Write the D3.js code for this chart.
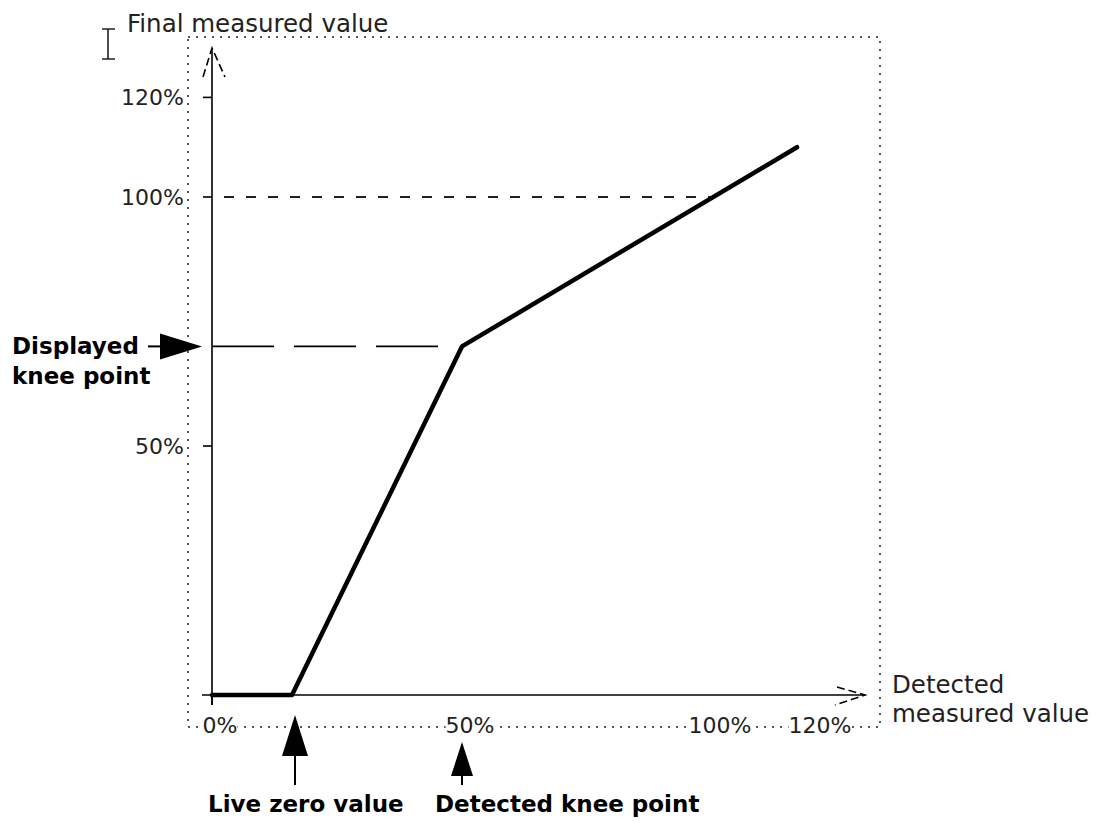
<!DOCTYPE html>
<html>
<head>
<meta charset="utf-8">
<script src="https://cdn.jsdelivr.net/npm/d3@7/dist/d3.min.js"></script>
<style>
html,body{margin:0;padding:0;background:#fff;}
svg{display:block;}
</style>
</head>
<body>
<svg id="chart" width="1097" height="823"></svg>
<script>
// ---- data ----
const curveX = [0, 16, 50, 117];          // detected measured value (%)
const curveY = [0, 0, 70, 110];           // final measured value (%)
const yTickValues = [50, 100, 120];
const yTickLabels = ["50%", "100%", "120%"];
const xTickValues = [0, 50, 100, 120];
const xTickLabels = ["0%", "50%", "100%", "120%"];
const liveZero = 16;
const kneeDetected = 50;
const kneeDisplayed = 70;
const fullScale = 100;

const svg = d3.select("#chart");
const x = d3.scaleLinear().domain([0, 100]).range([212, 712]);
const y = d3.scaleLinear().domain([0, 100]).range([695, 197]);

const REG = "'DejaVu Sans', Verdana, sans-serif";
const BOLD = "'DejaVu Sans', Verdana, sans-serif";

// dotted frame
svg.append("rect").attr("x", 188).attr("y", 37).attr("width", 692).attr("height", 690)
  .attr("fill", "none").attr("stroke", "#555").attr("stroke-width", 2)
  .attr("stroke-dasharray", "2,6");

// y axis line
svg.append("line").attr("x1", x(0)).attr("x2", x(0)).attr("y1", 48).attr("y2", 705)
  .attr("stroke", "#000").attr("stroke-width", 1.6);
// x axis line
svg.append("line").attr("x1", 202).attr("x2", 865).attr("y1", y(0)).attr("y2", y(0))
  .attr("stroke", "#000").attr("stroke-width", 1.6);

// arrowheads
svg.append("path").attr("d", `M203,77 L${x(0)},48 L225,77`).attr("fill", "none")
  .attr("stroke", "#000").attr("stroke-width", 1.6).attr("stroke-dasharray", "8,4");
svg.append("path").attr("d", `M837,687 L865,${y(0)} L835,705`).attr("fill", "none")
  .attr("stroke", "#000").attr("stroke-width", 1.6).attr("stroke-dasharray", "8,4");

// y ticks
const yTicks = svg.append("g");
yTickValues.forEach((v, i) => {
  yTicks.append("line").attr("x1", 203).attr("x2", x(0)).attr("y1", y(v)).attr("y2", y(v))
    .attr("stroke", "#000").attr("stroke-width", 1.6);
  yTicks.append("text").attr("x", 184).attr("y", y(v)).attr("dy", "0.36em")
    .attr("text-anchor", "end").attr("font-family", REG).attr("font-size", 22)
    .attr("fill", "#222").text(yTickLabels[i]);
});
// x tick at 0
svg.append("line").attr("x1", x(0)).attr("x2", x(0)).attr("y1", y(0)).attr("y2", 705)
  .attr("stroke", "#000").attr("stroke-width", 1.6);

// x tick labels (white background over dotted frame)
const xLab = svg.append("g");
xTickValues.forEach((v, i) => {
  const t = xLab.append("text").attr("x", x(v) + 8).attr("y", 733)
    .attr("text-anchor", "middle").attr("font-family", REG).attr("font-size", 22)
    .attr("fill", "#222").text(xTickLabels[i]);
  const bb = t.node().getBBox();
  xLab.insert("rect", () => t.node()).attr("x", bb.x).attr("y", bb.y + 4).attr("width", bb.width)
    .attr("height", bb.height - 8).attr("fill", "#fff");
});

// 100% dashed reference line
const slope = (curveY[3] - curveY[2]) / (curveX[3] - curveX[2]);
const x100 = curveX[2] + (fullScale - curveY[2]) / slope;
svg.append("line").attr("x1", x(0)).attr("x2", x(x100)).attr("y1", y(fullScale)).attr("y2", y(fullScale))
  .attr("stroke", "#222").attr("stroke-width", 2).attr("stroke-dasharray", "10,12")
  .attr("stroke-dashoffset", -12);

// displayed knee long-dashed line
svg.append("line").attr("x1", x(0)).attr("x2", x(kneeDetected) - 16).attr("y1", y(kneeDisplayed)).attr("y2", y(kneeDisplayed))
  .attr("stroke", "#000").attr("stroke-width", 1.6).attr("stroke-dasharray", "62,20");

// transfer curve
const line = d3.line().x(d => x(d[0])).y(d => y(d[1]));
svg.append("path").datum(curveX.map((v, i) => [v, curveY[i]]))
  .attr("d", line).attr("fill", "none").attr("stroke", "#000").attr("stroke-width", 4.5)
  .attr("stroke-linejoin", "round").attr("stroke-linecap", "round");

// axis titles
svg.append("text").attr("x", 127).attr("y", 32).attr("font-family", REG).attr("font-size", 24.5)
  .attr("fill", "#222").text("Final measured value");
svg.append("text").attr("x", 892).attr("y", 693).attr("font-family", REG).attr("font-size", 24.5)
  .attr("fill", "#222").text("Detected");
svg.append("text").attr("x", 892).attr("y", 722).attr("font-family", REG).attr("font-size", 24.5)
  .attr("fill", "#222").text("measured value");

// I-beam cursor glyph
svg.append("path").attr("d", "M102,29 L115,29 M108,29 L108,59 M102,59 L115,59")
  .attr("stroke", "#222").attr("stroke-width", 1.6).attr("fill", "none");

// Displayed knee point arrow
const ky = y(kneeDisplayed);
svg.append("line").attr("x1", 148).attr("x2", 162).attr("y1", ky).attr("y2", ky)
  .attr("stroke", "#000").attr("stroke-width", 2);
svg.append("path").attr("d", `M160,${ky - 13} L202,${ky} L160,${ky + 13} Z`).attr("fill", "#000");
svg.append("text").attr("x", 12).attr("y", 354).attr("font-family", BOLD).attr("font-weight", "bold")
  .attr("font-size", 23).attr("fill", "#000").text("Displayed");
svg.append("text").attr("x", 12).attr("y", 384).attr("font-family", BOLD).attr("font-weight", "bold")
  .attr("font-size", 23).attr("fill", "#000").text("knee point");

// Live zero arrow
const lzx = x(liveZero) + 3;
svg.append("path").attr("d", `M${lzx - 13},756 L${lzx},715 L${lzx + 13},756 Z`).attr("fill", "#000");
svg.append("line").attr("x1", lzx).attr("x2", lzx).attr("y1", 756).attr("y2", 785)
  .attr("stroke", "#000").attr("stroke-width", 2);
svg.append("text").attr("x", lzx - 87).attr("y", 812)
  .attr("font-family", BOLD).attr("font-weight", "bold").attr("font-size", 23)
  .attr("fill", "#000").text("Live zero value");

// Detected knee point arrow
const kx = x(kneeDetected);
svg.append("path").attr("d", `M${kx - 11},776 L${kx},742 L${kx + 11},776 Z`).attr("fill", "#000");
svg.append("line").attr("x1", kx).attr("x2", kx).attr("y1", 776).attr("y2", 785)
  .attr("stroke", "#000").attr("stroke-width", 2);
svg.append("text").attr("x", 435).attr("y", 812)
  .attr("font-family", BOLD).attr("font-weight", "bold").attr("font-size", 23)
  .attr("fill", "#000").text("Detected knee point");
</script>
</body>
</html>
